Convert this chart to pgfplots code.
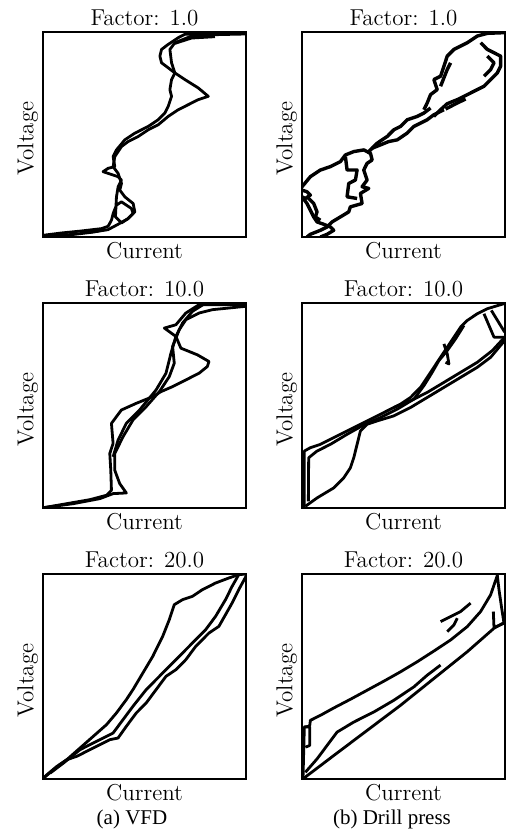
\documentclass[border=0pt]{standalone}
\usepackage{fontspec}
\usepackage{pgfplots}
\pgfplotsset{compat=1.18}
\newfontfamily\capfont{Liberation Serif}

% V-I trajectories, coordinates read in pixel units of each panel (y grows downward)
\pgfplotsset{
  panel/.style={
    scale only axis, width=101.5pt, height=102.5pt,
    xtick=\empty, ytick=\empty, y dir=reverse,
    xlabel={Current}, ylabel={Voltage},
    every axis title shift=0pt,
    title style={at={(0.5,1.034)}, anchor=base, font=\fontsize{11.5}{13}\selectfont},
    xlabel style={at={(0.5,-0.107)}, anchor=base, font=\fontsize{11.5}{13}\selectfont},
    ylabel style={at={(-0.047,0.48)}, anchor=base, font=\fontsize{11.5}{13}\selectfont},
    axis line style={line width=0.6pt},
  },
  vi/.style={black, line width=1.4pt, line join=round, mark=none},
}

\begin{document}
\begin{tikzpicture}
\useasboundingbox (0,0) rectangle (253pt,-420pt);

% ---- VFD, factor 1
\begin{axis}[panel, at={(21.5pt,-16pt)}, anchor=north west,
  xmin=5, xmax=613, ymin=8, ymax=620, title={Factor: 1.0}]
\addplot[vi] coordinates {(5,615)(60,608)(120,602)(180,595)(200,588)(210,570)(215,550)(225,525)(240,515)(270,535)(275,550)(260,565)(240,578)(222,560)(225,500)(230,470)(240,450)(230,440)(200,430)(185,425)(200,415)(220,410)(215,380)(225,360)(250,330)(280,310)(320,290)(350,270)(370,250)(380,230)(390,200)(385,180)(390,150)(400,130)(380,115)(360,100)(355,80)(360,60)(380,45)(410,25)(430,15)(500,12)(610,10)};
\addplot[vi] coordinates {(610,14)(520,16)(450,20)(400,40)(385,60)(390,100)(400,130)(430,150)(470,175)(500,200)(470,210)(440,225)(410,240)(380,260)(350,285)(320,300)(290,320)(260,335)(240,350)(220,380)(215,410)(230,430)(240,460)(235,480)(250,500)(275,520)(280,545)(260,565)(230,582)(200,598)(150,606)(100,612)(5,618)};
\addplot[vi] coordinates {(400,42)(450,26)(520,22)};
\addplot[vi] coordinates {(120,608)(160,604)(190,598)};
\end{axis}

% ---- Drill press, factor 1
\begin{axis}[panel, at={(151pt,-16pt)}, anchor=north west,
  xmin=5, xmax=613, ymin=8, ymax=620, title={Factor: 1.0}]
\addplot[vi, line width=1.7pt] coordinates {(5,470)(30,440)(60,420)(90,410)(120,395)(135,375)(160,365)(190,360)(210,370)(215,390)(200,400)(190,420)(200,450)(185,470)(205,475)(180,490)(185,520)(150,530)(145,545)(120,560)(95,575)(80,590)(60,600)(30,612)(20,620)};
\addplot[vi, line width=1.7pt] coordinates {(5,500)(20,520)(30,540)(40,560)(50,575)(70,582)(90,590)(100,600)(80,612)(60,620)};
\addplot[vi, line width=1.7pt] coordinates {(135,380)(140,420)(170,420)(165,450)(145,460)(140,500)(170,505)};
\addplot[vi, line width=1.7pt] coordinates {(20,500)(40,520)(50,545)(45,560)(60,570)};
\addplot[vi, line width=1.7pt] coordinates {(5,480)(20,485)(30,495)(15,505)(5,500)};
\addplot[vi, line width=1.7pt] coordinates {(200,370)(230,340)(260,320)(280,300)(300,290)(320,270)(350,260)(370,250)(390,235)};
\addplot[vi, line width=1.7pt] coordinates {(215,355)(240,345)(265,335)(290,330)(320,310)(340,290)(380,270)(400,255)(430,240)};
\addplot[vi, line width=1.7pt] coordinates {(370,240)(380,220)(390,195)(410,180)(400,150)(420,140)(430,110)(440,80)(460,60)(480,50)(500,40)(530,20)(560,12)(610,10)};
\addplot[vi, line width=1.7pt] coordinates {(540,40)(560,60)(580,70)(600,80)(600,110)(590,130)(570,150)(550,170)(530,180)(510,190)(490,200)(470,210)(440,222)(420,240)(400,260)};
\addplot[vi, line width=1.7pt] coordinates {(450,100)(440,120)(430,145)(420,170)};
\addplot[vi, line width=1.7pt] coordinates {(560,80)(580,100)(570,120)(550,140)};
\addplot[vi, line width=1.7pt] coordinates {(435,238)(470,220)(495,208)};
\end{axis}

% ---- VFD, factor 10
\begin{axis}[panel, at={(21.5pt,-151.5pt)}, anchor=north west,
  xmin=128, xmax=742, ymin=100, ymax=713, title={Factor: 10.0}]
\addplot[vi] coordinates {(130,712)(200,700)(270,688)(320,675)(335,660)(333,600)(330,550)(340,520)(335,460)(365,420)(410,400)(460,380)(485,365)(520,350)(560,330)(600,310)(625,290)(630,275)(595,255)(545,235)(530,200)(495,175)(530,165)(560,130)(600,105)(740,105)};
\addplot[vi] coordinates {(740,110)(690,115)(640,120)(600,130)(560,150)(540,180)(520,230)(525,280)(510,320)(480,365)(440,410)(400,450)(370,500)(345,550)(345,600)(360,640)(380,668)(340,670)(300,685)(220,700)(130,712)};
\addplot[vi] coordinates {(620,100)(580,125)(550,160)(530,200)(515,250)(500,310)(470,360)(420,420)(380,460)(355,510)(340,560)};
\end{axis}

% ---- Drill press, factor 10
\begin{axis}[panel, at={(151pt,-151.5pt)}, anchor=north west,
  xmin=5, xmax=613, ymin=8, ymax=620, title={Factor: 10.0}]
\addplot[vi] coordinates {(12,620)(12,540)(12,450)(30,440)(60,430)(100,410)(150,385)(200,360)(250,335)(300,310)(330,290)(360,260)(380,230)(400,200)(420,170)(440,140)(460,110)(480,80)(500,60)(530,40)(560,25)(610,10)};
\addplot[vi] coordinates {(24,600)(25,470)(50,450)(90,430)(140,400)(190,372)(240,350)(290,325)(340,295)(370,255)(395,215)(415,180)(440,150)(465,115)(490,75)};
\addplot[vi] coordinates {(430,130)(440,160)(445,190)(435,185)};
\addplot[vi] coordinates {(15,615)(50,590)(100,560)(130,530)(150,500)(160,470)(170,430)(180,390)(200,370)(230,360)(280,345)(330,320)(380,290)(430,260)(480,230)(530,200)(570,170)(612,120)};
\addplot[vi] coordinates {(280,320)(330,300)(380,275)(430,245)(480,215)(530,185)(575,150)(612,110)};
\addplot[vi] coordinates {(550,40)(580,110)(612,110)};
\addplot[vi] coordinates {(572,30)(612,95)};
\end{axis}

% ---- VFD, factor 20
\begin{axis}[panel, at={(21.5pt,-287pt)}, anchor=north west,
  xmin=128, xmax=742, ymin=103, ymax=718, title={Factor: 20.0}]
\addplot[vi] coordinates {(130,715)(160,690)(200,660)(240,625)(280,590)(320,555)(350,520)(380,480)(400,450)(430,400)(460,350)(490,290)(510,240)(525,195)(550,180)(580,170)(610,150)(650,130)(690,115)(720,105)(742,103)};
\addplot[vi] coordinates {(742,110)(720,150)(700,190)(680,225)(660,260)(630,280)(610,300)(590,320)(560,360)(530,390)(500,410)(470,450)(440,490)(410,520)(380,560)(355,595)(330,600)(300,615)(270,630)(230,650)(200,660)(170,680)(140,705)(130,715)};
\addplot[vi] coordinates {(720,105)(700,140)(680,180)(650,230)(620,270)(590,300)(560,330)(520,370)(480,410)(440,450)(400,500)(370,540)(340,580)(300,600)(240,630)(190,670)(150,700)};
\end{axis}

% ---- Drill press, factor 20
\begin{axis}[panel, at={(151pt,-287pt)}, anchor=north west,
  xmin=5, xmax=613, ymin=8, ymax=620, title={Factor: 20.0}]
\addplot[vi] coordinates {(8,620)(10,540)(12,465)(28,462)(30,445)(60,430)(100,408)(150,382)(200,355)(250,328)(300,300)(350,270)(400,238)(450,205)(500,165)(540,120)(570,70)(590,12)(595,55)(603,110)(610,155)(580,168)(578,120)};
\addplot[vi] coordinates {(10,618)(100,550)(200,475)(300,400)(400,320)(500,240)(580,170)(612,152)};
\addplot[vi] coordinates {(15,600)(50,560)(80,520)(110,480)(160,450)(220,420)(280,385)(340,345)(380,310)(420,280)};
\addplot[vi] coordinates {(420,150)(450,135)(480,120)(510,95)};
\addplot[vi] coordinates {(440,180)(460,160)(470,140)};
\addplot[vi] coordinates {(10,465)(28,465)(28,520)(15,525)};
\end{axis}

\node[anchor=base, font=\capfont\fontsize{10.5}{12}\selectfont] at (66pt,-412pt) {(a) VFD};
\node[anchor=base, font=\capfont\fontsize{10.5}{12}\selectfont] at (196pt,-412pt) {(b) Drill press};
\end{tikzpicture}
\end{document}
